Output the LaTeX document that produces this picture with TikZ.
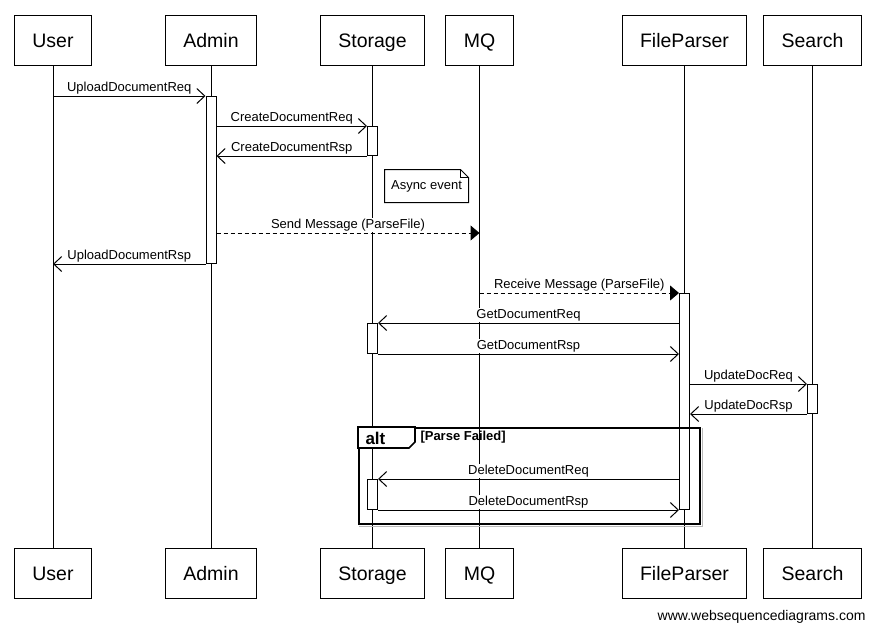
\documentclass[tikz,border=0pt]{standalone}
\usepackage{fontspec}
\setmainfont{Liberation Sans}
\usetikzlibrary{arrows.meta,positioning,calc}

\begin{document}
\begin{tikzpicture}[x=1pt,y=-1pt,line width=1pt,
      font=\fontsize{13}{15}\selectfont,
      party/.style={draw,fill=white,minimum height=50pt,inner xsep=18pt,
                    text height=14pt,text depth=0pt,
                    font=\fontsize{19.5}{23}\selectfont},
      act/.style={draw,fill=white,minimum width=10pt,inner sep=0pt,anchor=north},
      msg/.style={-{Straight Barb[length=8pt,width=15pt]}},
      amsg/.style={dash pattern=on 4pt off 3pt,-{Triangle[length=9pt,width=15pt]}},
      lbl/.style={above=0.6pt,fill=white,inner xsep=1pt,inner ysep=1pt},
      note/.style={minimum width=83pt,minimum height=32pt,inner sep=0pt},
      frame/.style={line width=1.6pt}]
    \fill[white] (0,0) rectangle (876,632);
    \useasboundingbox (0,0) rectangle (876,632);
    \node[party] (userT) at (53,40) {User};
    \node[party] (admT) at (211,40) {Admin};
    \node[party] (stoT) at (372.5,40) {Storage};
    \node[party] (mqT) at (479.5,40) {MQ};
    \node[party] (fpT) at (684.5,40) {FileParser};
    \node[party] (seT) at (812.5,40) {Search};
    \node[party] (userB) at (53,573.5) {User};
    \node[party] (admB) at (211,573.5) {Admin};
    \node[party] (stoB) at (372.5,573.5) {Storage};
    \node[party] (mqB) at (479.5,573.5) {MQ};
    \node[party] (fpB) at (684.5,573.5) {FileParser};
    \node[party] (seB) at (812.5,573.5) {Search};
    \draw (userT) -- (userB); \draw (admT) -- (admB); \draw (stoT) -- (stoB);
    \draw (mqT) -- (mqB); \draw (fpT) -- (fpB); \draw (seT) -- (seB);
    \node[act,minimum height=167pt] (admA) at (admT |- 0,96) {};
    \node[act,minimum height=29pt] (stoA) at (stoT |- 0,126) {};
    \node[act,minimum height=216pt] (fpA) at (fpT |- 0,293) {};
    \node[act,minimum height=30pt] (stoG) at (stoT |- 0,323) {};
    \node[act,minimum height=29pt] (seA) at (seT |- 0,384) {};
    \node[act,minimum height=30pt] (stoD) at (stoT |- 0,479) {};
    \node[note] (async) at (426.5,186) {Async event};
    \draw (async.north west) -- ([xshift=-8pt]async.north east)
      -- ([yshift=-8pt]async.north east) -- (async.south east)
      -- (async.south west) -- cycle;
    \draw ([xshift=-8pt]async.north east) -- ([xshift=-8pt,yshift=-8pt]async.north east)
      -- ([yshift=-8pt]async.north east);
    \coordinate (mqIn) at (mqT |- 0,233);
    \draw[msg] (userT |- admA.north) -- node[lbl] {UploadDocumentReq} (admA.north west);
    \draw[msg] (admA.east |- stoA.north) -- node[lbl] {CreateDocumentReq} (stoA.north west);
    \draw[msg] (stoA.south west) -- node[lbl] {CreateDocumentRsp} (admA.east |- stoA.south);
    \draw[amsg] (admA.east |- mqIn) -- node[lbl] {Send Message (ParseFile)} (mqIn);
    \draw[msg] (admA.south west) -- node[lbl] {UploadDocumentRsp} (userT |- admA.south);
    \draw[amsg] (mqT |- fpA.north) -- node[lbl] {Receive Message (ParseFile)} (fpA.north west);
    \draw[msg] (fpA.west |- stoG.north) -- node[lbl] {GetDocumentReq} (stoG.north east);
    \draw[msg] (stoG.south east) -- node[lbl] {GetDocumentRsp} (fpA.west |- stoG.south);
    \draw[msg] (fpA.east |- seA.north) -- node[lbl] {UpdateDocReq} (seA.north west);
    \draw[msg] (seA.south west) -- node[lbl] {UpdateDocRsp} (fpA.east |- seA.south);
    \draw[msg] (fpA.west |- stoD.north) -- node[lbl] {DeleteDocumentReq} (stoD.north east);
    \draw[msg] (stoD.south east) -- node[lbl] {DeleteDocumentRsp} (fpA.west |- stoD.south);
    \node[draw,frame,minimum width=341pt,minimum height=96pt,inner sep=0pt,
          anchor=north west] (alt) at (358,427) {};
    \draw[frame,gray!55] ([xshift=2pt,yshift=-1pt]alt.north east)
      -- ([xshift=2pt,yshift=-2pt]alt.south east) -- ([xshift=1pt,yshift=-2pt]alt.south west);
    \draw[frame,fill=white] (alt.north west) -- ([xshift=57pt]alt.north west)
      -- ([xshift=57pt,yshift=-15pt]alt.north west) -- ([xshift=51pt,yshift=-21pt]alt.north west)
      -- ([yshift=-21pt]alt.north west) -- cycle;
    \node[anchor=west,inner sep=0pt,font=\bfseries\fontsize{17}{19}\selectfont]
      (altLbl) at ([xshift=7pt,yshift=-11pt]alt.north west) {alt};
    \node[anchor=west,inner sep=0pt,font=\bfseries\fontsize{13}{15}\selectfont]
      (cond) at ([xshift=62pt,yshift=-10pt]alt.north west) {[Parse Failed]};
    \node[anchor=east,inner sep=0pt,font=\fontsize{14}{16}\selectfont]
      (wsd) at (866,617) {www.websequencediagrams.com};
  \end{tikzpicture}
\end{document}
